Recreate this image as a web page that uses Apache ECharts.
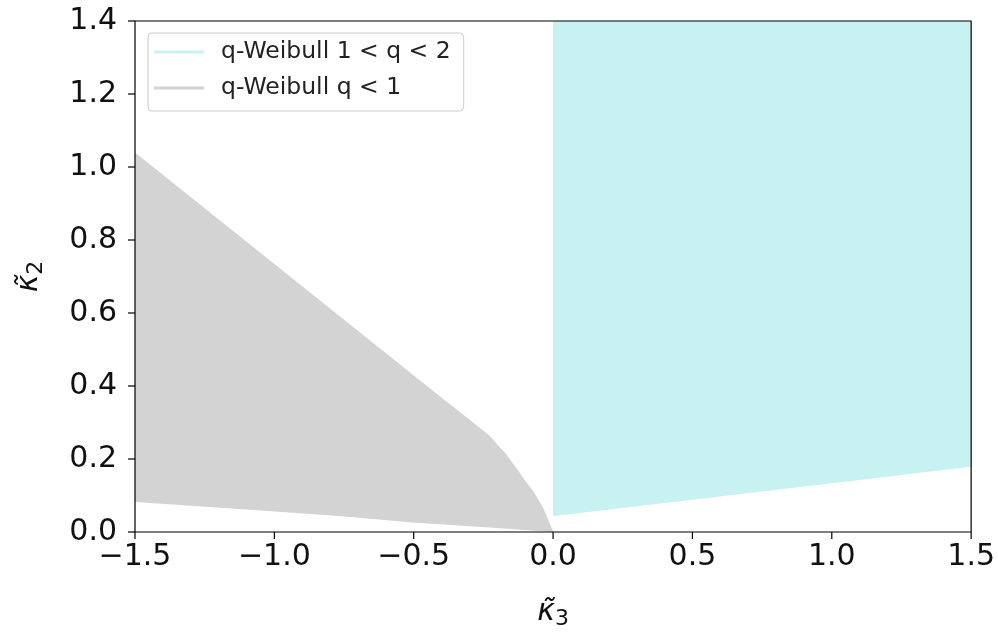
<!DOCTYPE html>
<html>
<head>
<meta charset="utf-8">
<script src="https://cdn.jsdelivr.net/npm/echarts@6/dist/echarts.min.js"></script>
<style>
  html, body { margin: 0; padding: 0; background: #ffffff; }
  #chart { width: 998px; height: 635px; }
</style>
</head>
<body>
<div id="chart"></div>
<script>
// Region boundaries in the (kappa3, kappa2) plane
const grayUpperX = [-1.5, -0.403, -0.23, -0.2, -0.17, -0.122, -0.1, -0.074, -0.055, -0.038, -0.025, -0.014, -0.006, 0];
const grayUpperY = [1.04, 0.37, 0.266, 0.24, 0.215, 0.165, 0.14, 0.115, 0.092, 0.069, 0.048, 0.027, 0.012, 0];
const grayLowerX = [-1.5, -1.127, -0.768, -0.505, -0.241, -0.05, 0];
const grayLowerY = [0.082, 0.063, 0.044, 0.026, 0.013, 0.003, 0];
const cyanLowerX = [0, 1.5];
const cyanLowerY = [0.043, 0.179];
const cyanTopY = 1.4;

const seriesNames = ['q-Weibull 1 < q < 2', 'q-Weibull q < 1'];
const xTicks = [-1.5, -1.0, -0.5, 0.0, 0.5, 1.0, 1.5];
const yTicks = [0.0, 0.2, 0.4, 0.6, 0.8, 1.0, 1.2, 1.4];

const CYAN = '#c8f1f1';
const GRAY = '#d3d3d3';
const FONT = '"DejaVu Sans", sans-serif';
const TICK_LEN = 7;

const xMin = xTicks[0], xMax = xTicks[xTicks.length - 1];
const yMin = yTicks[0], yMax = yTicks[yTicks.length - 1];

// closed outlines: upper edge left->right, lower edge right->left
const grayPolygon = grayUpperX.map((x, i) => [x, grayUpperY[i]])
  .concat(grayLowerX.map((x, i) => [x, grayLowerY[i]]).reverse());
const cyanPolygon = cyanLowerX.map((x, i) => [x, cyanLowerY[i]])
  .concat([[cyanLowerX[cyanLowerX.length - 1], cyanTopY], [cyanLowerX[0], cyanTopY]]);

function polygonRenderer(points, color) {
  return function (params, api) {
    return {
      type: 'polygon',
      shape: { points: points.map(p => api.coord(p)) },
      style: { fill: color, stroke: null }
    };
  };
}

// the four spines of the plotting area
function frameRenderer(params, api) {
  const bl = api.coord([xMin, yMin]);
  const tr = api.coord([xMax, yMax]);
  return {
    type: 'rect',
    shape: { x: bl[0], y: tr[1], width: tr[0] - bl[0], height: bl[1] - tr[1] },
    style: { fill: null, stroke: '#000000', lineWidth: 1.2 }
  };
}

const fmt = v => {
  const s = Math.abs(v).toFixed(1);
  return v < 0 ? '\u2212' + s : s;
};

const nameRich = {
  k: { fontFamily: FONT, fontSize: 30, fontStyle: 'italic', color: '#111111', lineHeight: 36 },
  s: { fontFamily: FONT, fontSize: 22, color: '#111111', verticalAlign: 'bottom', lineHeight: 30 }
};

const chart = echarts.init(document.getElementById('chart'), null, { renderer: 'canvas' });
chart.setOption({
  animation: false,
  backgroundColor: '#ffffff',
  grid: { left: 135, right: 26, top: 21, bottom: 103 },
  legend: {
    orient: 'vertical',
    left: 148, top: 33,
    padding: [6, 13, 10, 6],
    itemGap: 10,
    itemWidth: 50, itemHeight: 3,
    backgroundColor: 'rgba(255,255,255,0.8)',
    borderColor: '#cccccc', borderWidth: 1, borderRadius: 4,
    textStyle: { fontFamily: FONT, fontSize: 23.5, color: '#222222', lineHeight: 26, padding: [0, 0, 0, 12] },
    data: [
      { name: seriesNames[0], icon: 'rect', itemStyle: { color: CYAN } },
      { name: seriesNames[1], icon: 'rect', itemStyle: { color: GRAY } }
    ]
  },
  xAxis: {
    type: 'value',
    min: xMin, max: xMax, interval: 0.5,
    splitLine: { show: false },
    axisLine: { show: false },
    axisTick: { show: false },
    axisLabel: { formatter: fmt, fontFamily: FONT, fontSize: 30, color: '#111111', margin: 10 },
    name: '{k|\u03BA\u0303}{s|3}',
    nameLocation: 'middle', nameGap: 62,
    nameTextStyle: { rich: nameRich }
  },
  yAxis: {
    type: 'value',
    min: yMin, max: yMax, interval: 0.2,
    splitLine: { show: false },
    axisLine: { show: false },
    axisTick: { show: false },
    axisLabel: { formatter: fmt, fontFamily: FONT, fontSize: 30, color: '#111111', margin: 18 },
    name: '{k|\u03BA\u0303}{s|2}',
    nameLocation: 'middle', nameGap: 88, nameRotate: 90,
    nameTextStyle: { rich: nameRich }
  },
  series: [
    {
      name: seriesNames[0], type: 'custom', clip: true, z: 1,
      itemStyle: { color: CYAN },
      data: [[cyanLowerX[0], cyanLowerY[0]]],
      renderItem: polygonRenderer(cyanPolygon, CYAN)
    },
    {
      name: seriesNames[1], type: 'custom', clip: true, z: 1,
      itemStyle: { color: GRAY },
      data: [[grayLowerX[0], grayLowerY[0]]],
      renderItem: polygonRenderer(grayPolygon, GRAY)
    },
    {
      name: 'frame', type: 'custom', clip: false, z: 5, silent: true,
      data: [[xMin, yMin]],
      renderItem: frameRenderer
    }
  ]
});

// outward tick marks at each tick value, positioned through the axis scales
const tickStyle = { stroke: '#000000', lineWidth: 1.2 };
const tickLines = [];
xTicks.forEach(v => {
  const p = chart.convertToPixel({ gridIndex: 0 }, [v, yMin]);
  tickLines.push({ type: 'line', silent: true, z: 100,
    shape: { x1: p[0], y1: p[1], x2: p[0], y2: p[1] + TICK_LEN }, style: tickStyle });
});
yTicks.forEach(v => {
  const p = chart.convertToPixel({ gridIndex: 0 }, [xMin, v]);
  tickLines.push({ type: 'line', silent: true, z: 100,
    shape: { x1: p[0], y1: p[1], x2: p[0] - TICK_LEN, y2: p[1] }, style: tickStyle });
});
chart.setOption({ graphic: { elements: tickLines } });
</script>
</body>
</html>
